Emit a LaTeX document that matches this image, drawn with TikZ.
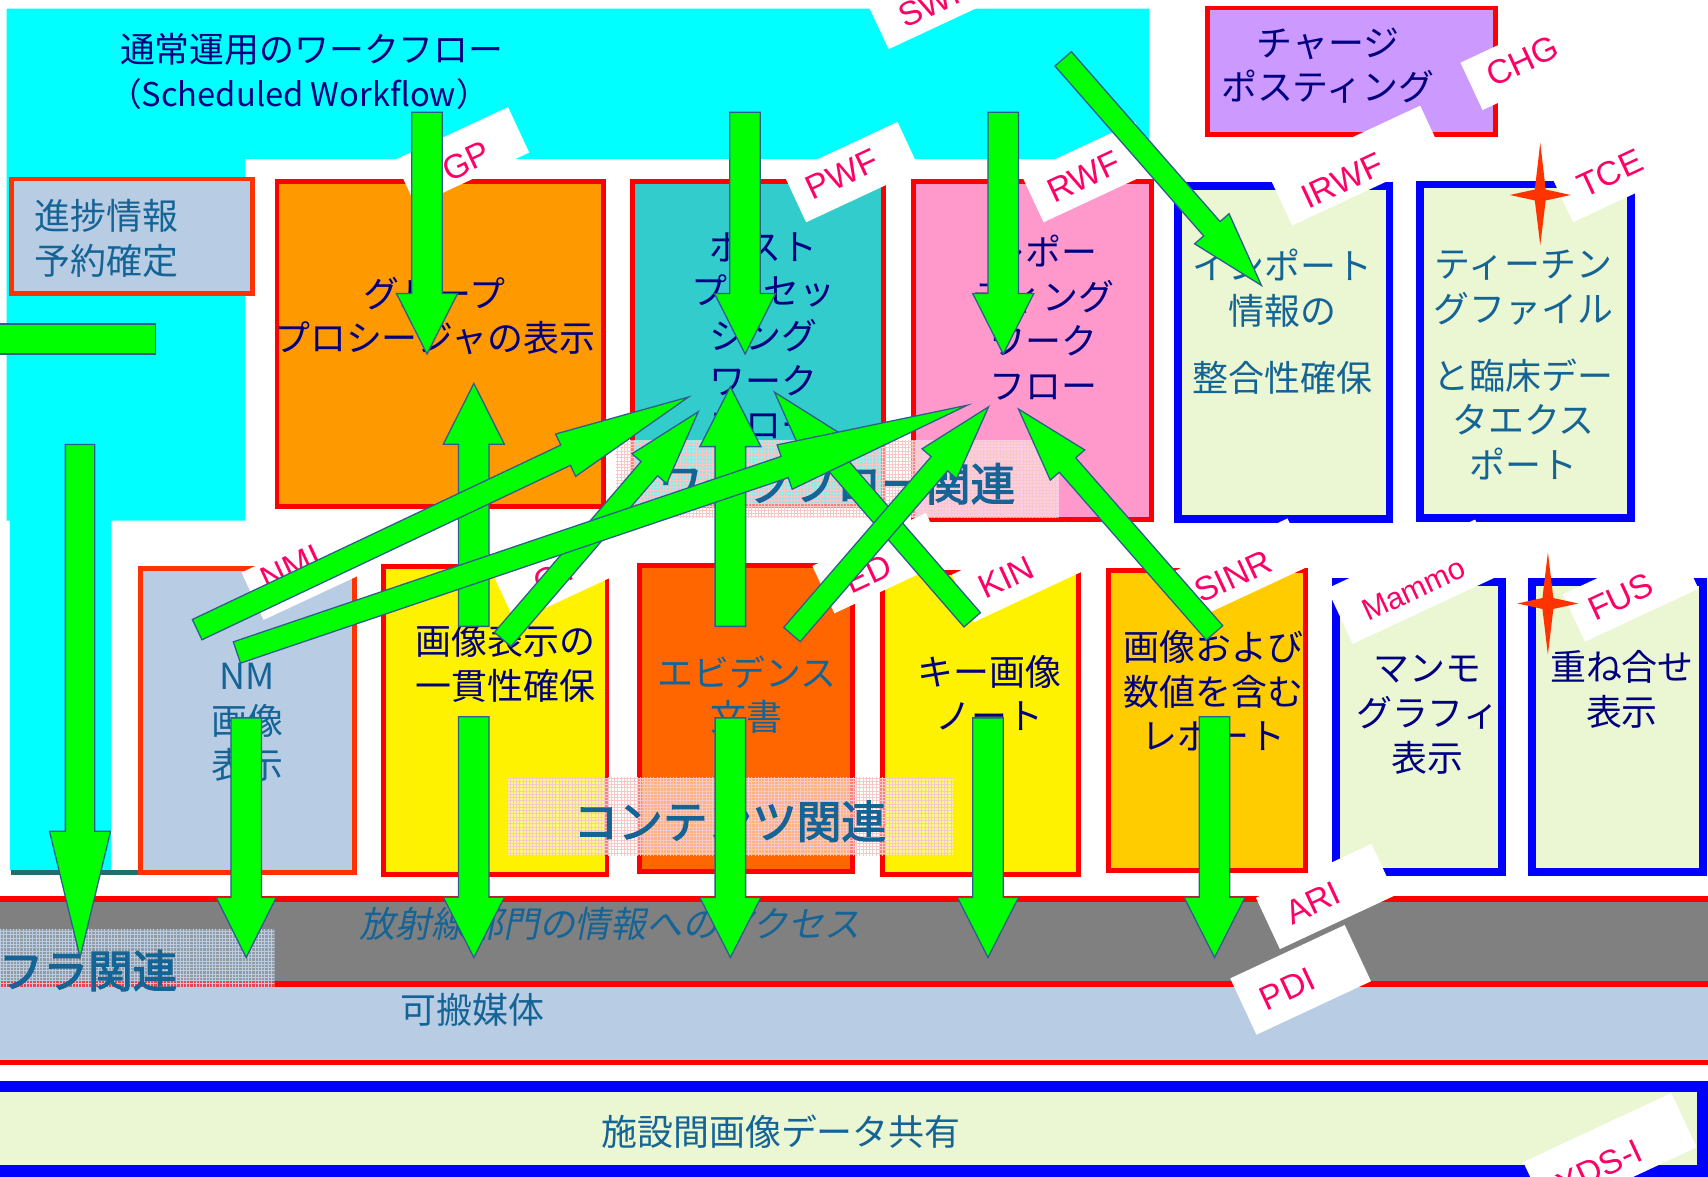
\documentclass[tikz,border=0pt]{standalone}
\usepackage{fontspec}
\setmainfont{Noto Sans CJK JP}
\newfontfamily\jpbold{Noto Sans CJK JP}[FakeBold=2.6]
\newfontfamily\jpslant{Noto Sans CJK JP}[FakeSlant=0.2]
\newfontfamily\tagfont{Liberation Sans}
\usetikzlibrary{calc,patterns}

\definecolor{navy}{HTML}{000080}
\definecolor{tealblue}{HTML}{156496}
\definecolor{tagred}{HTML}{FF0066}
\definecolor{cyanbg}{HTML}{00FFFF}
\definecolor{lightblue}{HTML}{B8CCE4}
\definecolor{orangebox}{HTML}{FF9900}
\definecolor{tealbox}{HTML}{33CCCC}
\definecolor{pinkbox}{HTML}{FF99CC}
\definecolor{lightgreen}{HTML}{EBF7D3}
\definecolor{purplebox}{HTML}{CC99FF}
\definecolor{edorange}{HTML}{FF6600}
\definecolor{goldbox}{HTML}{FFCC00}
\definecolor{borderred}{HTML}{FF0000}
\definecolor{borderorange}{HTML}{FF3300}
\definecolor{arrowgreen}{HTML}{00FF00}
\definecolor{arrowline}{HTML}{2E5E8E}
\definecolor{darkteal}{HTML}{1F6F6F}
\definecolor{grayband}{HTML}{808080}
\definecolor{starred}{HTML}{FF3300}
\definecolor{gridpink}{HTML}{F6C8C8}

\newcommand\jst{\rule[-0.12em]{0pt}{1em}}
\newcommand\blockarrow[5]{%
  \coordinate (bac) at ($(#1)!#5!(#2)$);
  \draw[arrowbody] ($(#1)!#3!90:(#2)$) -- ($(bac)!#3!90:(#2)$) -- ($(bac)!#4!90:(#2)$) -- (#2)
    -- ($(bac)!#4!-90:(#2)$) -- ($(bac)!#3!-90:(#2)$) -- ($(#1)!#3!-90:(#2)$) -- cycle;
}

\tikzset{
  jtxt/.style={font=\fontsize{33}{41}\selectfont, align=center, inner sep=0pt,
    execute at begin node=\jst, execute at end node=\jst},
  navytxt/.style={jtxt, text=navy},
  bluetxt/.style={jtxt, text=tealblue},
  redframe/.style={draw=borderred, line width=4.5pt},
  orframe/.style={draw=borderorange, line width=4.5pt},
  blueframe/.style={draw=blue, line width=7pt, fill=lightgreen},
  tagbox/.style={fill=white, rotate=25, inner sep=0pt},
  tagtxt/.style={font=\tagfont\fontsize{31}{31}\selectfont, text=tagred, rotate=25, inner sep=0pt},
  arrowbody/.style={fill=arrowgreen, draw=arrowline, line width=1.2pt, line join=miter},
  veil/.style={fill=white, fill opacity=0.5},
  veilgrid/.style={pattern=grid, pattern color=gridpink},
  bigtxt/.style={font=\jpbold\fontsize{41}{41}\selectfont, text=tealblue, inner sep=0pt},
}

\begin{document}
\begin{tikzpicture}[x=1pt,y=-1pt]
\useasboundingbox (0,0) rectangle (1568,1080);
\clip (0,0) rectangle (1568,1080);
\fill[white] (0,0) rectangle (1568,1080);

% cyan scheduled workflow area
\fill[cyanbg] (6,8) -- (1055,8) -- (1055,146) -- (225,146) -- (225,478) -- (102,478)
  -- (102,799) -- (9,799) -- (9,478) -- (6,478) -- cycle;

\node[navytxt, font=\fontsize{32}{41}\selectfont, anchor=west] (title1) at (110,45) {通常運用のワークフロー};
\node[navytxt, font=\fontsize{30}{41}\selectfont, anchor=west] (title2) at (100,86.5) {（Scheduled Workflow）};

% left bar and line
\draw[arrowbody] (-5,297.5) rectangle (143,325);
\draw[darkteal, line width=4pt] (10,801) -- (164,801);

% top row boxes
\draw[orframe, fill=lightblue] (10.3,164.3) rectangle (231.7,269.7);
\draw[redframe, fill=orangebox] (254.3,166.3) rectangle (553.7,464.7);
\draw[redframe, fill=tealbox] (580.3,166.8) rectangle (810.7,463.7);
\draw[redframe, fill=pinkbox] (838.8,166.8) rectangle (1057.2,476.7);
\draw[redframe, fill=purplebox] (1108.3,7.3) rectangle (1372.7,123.7);
\draw[blueframe] (1081.5,170.5) rectangle (1275.5,476.5);
\draw[blueframe] (1303.5,169.5) rectangle (1497.5,475.5);

% second row boxes
\draw[orframe, fill=lightblue] (129.3,521.9) rectangle (325.7,800.7);
\draw[redframe, fill=yellow] (351.9,520.3) rectangle (557.2,802.7);
\draw[redframe, fill=edorange] (586.9,518.9) rectangle (782.4,800.2);
\draw[redframe, fill=yellow] (810.3,525.3) rectangle (990.2,802.7);
\draw[redframe, fill=goldbox] (1017.3,523.9) rectangle (1198.7,799.3);
\draw[blueframe] (1226.2,534.5) rectangle (1379.1,800.5);
\draw[blueframe] (1406.5,534.5) rectangle (1563.5,800.5);

% box texts
\node[bluetxt, align=left, anchor=west] (sched) at (31.6,219.5) {進捗情報\\予約確定};
\node[navytxt] (gp) at (399,290.5) {グループ\\プロシージャの表示};
\node[navytxt] (pwf) at (701,308.7) {ポスト\\プロセッ\\シング\\ワーク\\フロー};
\node[navytxt] (rwf) at (958,293.2) {レポー\\ティング\\ワーク\\フロー};
\node[bluetxt] (irwf) at (1177.5,296) {インポート\\情報の\\[20pt]整合性確保};
\node[bluetxt] (tce) at (1398.6,336.5) {ティーチン\\グファイル\\[20pt]と臨床デー\\タエクス\\ポート};
\node[navytxt] (chg) at (1219,61) {チャージ\\ポスティング};
\node[bluetxt] (nmi) at (227,664) {NM\\画像\\表示};
\node[navytxt] (ct) at (464,609.5) {画像表示の\\一貫性確保};
\node[bluetxt] (ed) at (685.5,638.3) {エビデンス\\文書};
\node[navytxt] (kin) at (908,637.5) {キー画像\\ノート};
\node[navytxt] (sinr) at (1114,635.4) {画像および\\数値を含む\\レポート};
\node[navytxt] (mammo) at (1310.6,656.7) {マンモ\\グラフィ\\表示};
\node[navytxt] (fus) at (1489,633.7) {重ね合せ\\表示};

% bottom bands
\fill[grayband] (0,825) rectangle (1568,903);
\fill[lightblue] (0,903) rectangle (1568,975);
\draw[borderred, line width=5pt] (0,825.2) -- (1568,825.2);
\draw[borderred, line width=5pt] (0,903.4) -- (1568,903.4);
\draw[borderred, line width=5pt] (0,975.3) -- (1568,975.3);
\draw[blue, line width=10.5pt, fill=lightgreen] (-20,997.3) rectangle (1562.8,1074.8);

\node[bluetxt, font=\jpslant\fontsize{33}{41}\selectfont] (ari) at (560,848.5) {放射線部門の情報へのアクセス};
\node[bluetxt] (pdi) at (433.5,927) {可搬媒体};
\node[bluetxt] (xds) at (717,1039) {施設間画像データ共有};

% translucent category labels
\fill[veil] (565.5,404) rectangle (972,475.5);
\fill[veilgrid] (565.5,404) rectangle (972,475.5);
\fill[veil] (466,714) rectangle (875,785);
\fill[veilgrid] (466,714) rectangle (875,785);
\fill[lightblue, fill opacity=0.35] (-5,853) rectangle (251.8,905.8);
\fill[pattern=grid, pattern color=lightblue] (-5,853) rectangle (251.8,905.8);
\node[bigtxt] (wfrel) at (768,444) {ワークフロー関連};
\node[bigtxt] (ctrel) at (670,754) {コンテンツ関連};
\node[bigtxt, anchor=east] (infrel) at (163,891) {インフラ関連};

% profile tags
\node[tagbox, minimum width=120pt, minimum height=48pt] (tswf) at (860,-2) {};
\node[tagtxt] (lswf) at (858,2) {SWF};
\node[tagbox, minimum width=115pt, minimum height=46pt] (tgp) at (424,143.5) {};
\node[tagtxt] (lgp) at (428,148) {GP};
\node[tagbox, minimum width=115pt, minimum height=48pt] (tpwf) at (782,158) {};
\node[tagtxt] (lpwf) at (773,160) {PWF};
\node[tagbox, minimum width=115pt, minimum height=48pt] (trwf) at (1000,158) {};
\node[tagtxt] (lrwf) at (995,162) {RWF};
\node[tagbox, minimum width=115pt, minimum height=48pt] (tchg) at (1403,55) {};
\node[tagtxt] (lchg) at (1398,56) {CHG};
\node[tagbox, minimum width=153pt, minimum height=50pt] (tirwf) at (1245,152) {};
\node[tagtxt] (lirwf) at (1232,166) {IRWF};
\node[tagbox, minimum width=115pt, minimum height=48pt] (ttce) at (1486,158) {};
\node[tagtxt] (ltce) at (1478,159) {TCE};
\node[tagbox, minimum width=115pt, minimum height=48pt] (tnmi) at (284,523) {};
\node[tagtxt] (lnmi) at (267,521) {NMI};
\node[tagbox, minimum width=115pt, minimum height=48pt] (tct) at (515,525) {};
\node[tagtxt] (lct) at (510,528) {CT};
\node[tagbox, minimum width=115pt, minimum height=48pt] (ted) at (808,517) {};
\node[tagtxt] (led) at (797,527) {ED};
\node[tagbox, minimum width=115pt, minimum height=48pt] (tkin) at (936,525) {};
\node[tagtxt] (lkin) at (924,530) {KIN};
\node[tagbox, minimum width=115pt, minimum height=48pt] (tsinr) at (1140,522) {};
\node[tagtxt] (lsinr) at (1132,529) {SINR};
\node[tagbox, minimum width=150pt, minimum height=56pt] (tmammo) at (1298,534) {};
\node[tagtxt, font=\tagfont\fontsize{28}{28}\selectfont] (lmammo) at (1298,541) {Mammo};
\node[tagbox, minimum width=115pt, minimum height=48pt] (tfus) at (1497,543) {};
\node[tagtxt] (lfus) at (1488,548) {FUS};
\node[tagbox, minimum width=117pt, minimum height=52pt] (tari) at (1217,823) {};
\node[tagtxt] (lari) at (1205,829) {ARI};
\node[tagbox, minimum width=116pt, minimum height=57pt] (tpdi) at (1194,899.5) {};
\node[tagtxt] (lpdi) at (1182,908) {PDI};
\node[tagbox, minimum width=150pt, minimum height=55pt] (txds) at (1478,1060) {};
\node[tagtxt] (lxds) at (1468,1072) {XDS-I};

% stars
\fill[starred] (1414,131) -- (1419,174) -- (1442,179) -- (1419,184) -- (1414,225)
  -- (1409,184) -- (1386,179) -- (1409,174) -- cycle;
\fill[starred] (1421,507) -- (1426,549) -- (1449,554) -- (1426,559) -- (1421,601)
  -- (1416,559) -- (1393,554) -- (1416,549) -- cycle;

% arrow end points
\coordinate (a1t) at (392,103);   \coordinate (a1h) at (392,325);
\coordinate (a2t) at (684,103);   \coordinate (a2h) at (684,325);
\coordinate (a3t) at (921,103);   \coordinate (a3h) at (921,325);
\coordinate (swt) at (976,54);    \coordinate (swh) at (1158,262);
\coordinate (lft) at (73.5,408);  \coordinate (lfh) at (73.5,879);
\coordinate (nmdt) at (226,659);  \coordinate (nmdh) at (226,879);
\coordinate (ctdt) at (435,658);  \coordinate (ctdh) at (435,879);
\coordinate (eddt) at (670.5,659); \coordinate (eddh) at (670.5,879);
\coordinate (kidt) at (907,659);  \coordinate (kidh) at (907,879);
\coordinate (sidt) at (1115,658); \coordinate (sidh) at (1115,879);
\coordinate (ctut) at (435,575);  \coordinate (ctuh) at (435,352);
\coordinate (edut) at (670.5,575); \coordinate (eduh) at (670.5,355);
\coordinate (nm1t) at (181,578);  \coordinate (nm1h) at (632,364.5);
\coordinate (nm2t) at (217.5,599); \coordinate (nm2h) at (888,372);
\coordinate (ct2t) at (461.5,587); \coordinate (ct2h) at (641,378);
\coordinate (ed2t) at (727,582.5); \coordinate (ed2h) at (907.5,373.5);
\coordinate (ki2t) at (892.5,569); \coordinate (ki2h) at (711,360);
\coordinate (si2t) at (1115,581); \coordinate (si2h) at (935,375.5);

% block arrows
\blockarrow{a1t}{a1h}{14pt}{28pt}{0.75}
\blockarrow{a2t}{a2h}{14pt}{28pt}{0.75}
\blockarrow{a3t}{a3h}{14pt}{28pt}{0.75}
\blockarrow{lft}{lfh}{13.5pt}{28pt}{0.754}
\blockarrow{nmdt}{nmdh}{14pt}{27.5pt}{0.75}
\blockarrow{ctdt}{ctdh}{14pt}{28pt}{0.75}
\blockarrow{eddt}{eddh}{14pt}{28pt}{0.75}
\blockarrow{kidt}{kidh}{14pt}{28pt}{0.75}
\blockarrow{sidt}{sidh}{14pt}{28pt}{0.75}
\blockarrow{ctut}{ctuh}{14pt}{28pt}{0.75}
\blockarrow{edut}{eduh}{14pt}{28pt}{0.75}
\blockarrow{swt}{swh}{10pt}{21pt}{0.75}
\blockarrow{ct2t}{ct2h}{10pt}{21pt}{0.75}
\blockarrow{ki2t}{ki2h}{10pt}{21pt}{0.75}
\blockarrow{ed2t}{ed2h}{10pt}{21pt}{0.75}
\blockarrow{si2t}{si2h}{10pt}{21pt}{0.75}
\blockarrow{nm1t}{nm1h}{10.3pt}{21.5pt}{0.75}
\blockarrow{nm2t}{nm2h}{10.3pt}{21.5pt}{0.75}
\end{tikzpicture}
\end{document}
